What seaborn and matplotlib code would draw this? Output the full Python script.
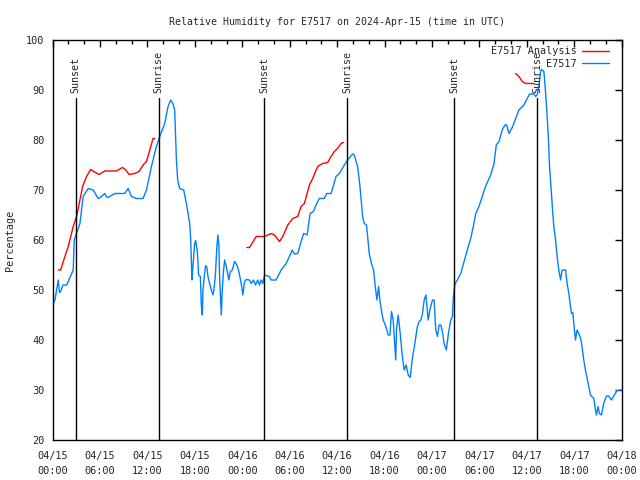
import matplotlib
matplotlib.use("Agg")
import matplotlib.pyplot as plt
import matplotlib.dates as mdates
import pandas as pd
import numpy as np
import seaborn as sns

# hours after 2024-04-15 00:00 UTC, relative humidity (%)
obs_hours = [0.0, 0.29, 0.71, 0.86, 1.01, 1.3, 1.77, 2.18, 2.6, 2.73, 2.94, 3.45, 3.86, 4.49, 5.13,
             5.76, 6.19, 6.6, 6.86, 7.23, 7.87, 9.13, 9.55, 9.97, 10.6, 11.44, 11.87, 12.5, 13.13,
             13.55, 14.18, 14.6, 14.94, 15.23, 15.44, 15.66, 15.82, 16.07, 16.58, 16.92, 17.34,
             17.46, 17.63, 17.75, 17.97, 18.09, 18.31, 18.47, 18.69, 18.81, 18.94, 19.02, 19.23,
             19.36, 19.52, 19.65, 19.95, 20.28, 20.4, 20.58, 20.78, 20.91, 21.04, 21.12, 21.25,
             21.34, 21.46, 21.63, 21.76, 21.97, 22.17, 22.3, 22.47, 22.73, 23.02, 23.31, 23.56,
             23.86, 24.07, 24.28, 24.49, 24.91, 25.13, 25.42, 25.67, 25.96, 26.17, 26.39, 26.59,
             26.81, 27.44, 27.65, 28.28, 28.91, 29.55, 29.96, 30.3, 30.59, 31.01, 31.44, 31.77,
             32.2, 32.58, 32.99, 33.41, 33.75, 34.38, 34.67, 35.23, 35.86, 36.28, 36.91, 37.32,
             37.95, 38.17, 38.59, 38.89, 39.22, 39.43, 39.72, 40.06, 40.35, 40.61, 40.82, 41.04,
             41.24, 41.41, 41.67, 41.83, 42.17, 42.46, 42.68, 42.88, 43.09, 43.31, 43.41, 43.51,
             43.72, 43.98, 44.23, 44.48, 44.73, 44.99, 45.24, 45.49, 45.74, 46.16, 46.38, 46.59,
             46.8, 47.01, 47.23, 47.43, 47.52, 47.73, 48.06, 48.27, 48.48, 48.69, 48.9, 49.12,
             49.32, 49.53, 49.82, 50.08, 50.38, 50.58, 50.71, 50.92, 51.21, 51.64, 52.06, 52.47,
             52.9, 53.23, 53.54, 53.95, 54.37, 54.8, 55.43, 55.85, 56.14, 56.48, 56.89, 57.23,
             57.45, 57.74, 58.16, 58.59, 59.0, 59.63, 60.05, 60.35, 60.9, 61.11, 61.31, 61.53,
             61.74, 61.87, 62.16, 62.29, 62.5, 62.7, 62.88, 63.08, 63.29, 63.42, 63.64, 63.84,
             64.05, 64.27, 64.47, 64.9, 65.1, 65.32, 65.53, 65.66, 65.82, 65.95, 66.16, 66.36,
             66.58, 66.87, 67.21, 67.42, 67.63, 67.84, 68.06, 68.48, 68.69, 68.81, 69.02, 69.19,
             69.44, 69.73, 70.08, 70.37, 70.71, 71.0, 71.42, 72.0]
obs_rh = [47, 48, 52, 49.5, 49.7, 51, 51, 52.5, 54, 60, 61, 63.3, 68.7, 70.3, 70,
          68.3, 68.7, 69.3, 68.5, 68.7, 69.3, 69.3, 70.3, 68.7, 68.3, 68.3, 70, 74.7, 78.7,
          80.7, 83.3, 86.7, 88, 87.2, 86, 76, 72, 70.3, 70, 67.3, 63.3,
          60.3, 52, 54.7, 59.3, 59.9, 57.7, 53, 52.7, 47, 45, 50, 53.3,
          54.9, 54.5, 52.7, 50.7, 49, 50, 52.7, 58.7, 61, 58.7, 52.7, 48,
          45, 50, 54, 56, 54.7, 53, 52, 53.7, 54, 55.7, 55, 53.7,
          51.3, 49, 51.7, 52.1, 52, 51.3, 52, 51, 52, 51, 52, 51.3,
          53, 52.7, 52, 52, 54, 55.3, 56.7, 58, 57.2, 57.3, 59.7, 61.3,
          61, 65.3, 65.7, 67.3, 68.3, 68.3, 69.3, 69.3, 72.7, 73.3, 75, 76,
          77.2, 77, 74.7, 70.7, 64.7, 63.3, 63, 57.3, 55.3, 54, 50.7, 48,
          50.7, 48, 45.3, 44, 42.7, 41, 41, 45.7, 44, 38.7, 36, 42,
          45, 41.3, 37, 34, 35, 33, 32.5, 36, 38.4, 42.7, 43.7, 44,
          45.3, 48, 49, 45.7, 44, 46, 48, 48, 42, 40.7, 43, 43,
          41.7, 39.3, 38, 41.3, 44, 44.7, 48.7, 51.3, 52, 53.3, 55.7, 58,
          60.3, 62.7, 65.3, 66.7, 68.7, 70.8, 73, 75.3, 79, 79.7, 82, 83,
          83, 81.3, 82.5, 84.3, 86, 87, 88.3, 89.2, 89.2, 88.7, 89, 90.7,
          93.7, 94.1, 93.7, 91.3, 86.7, 81.3, 74.7, 70, 65.3, 62.7, 60, 56.7,
          54, 52, 54, 54, 51.3, 49.3, 46.7, 45.3, 45.5, 43.3, 40, 42,
          41.3, 40, 36, 34, 32.3, 30.7, 29, 28.3, 26, 25, 26.7, 25.3,
          25, 27.3, 28.8, 28.8, 28, 28.8, 29.9, 30]

ana_hours = [[0.71, 1.01, 1.55, 1.97, 2.6, 3.03, 3.45, 3.79, 4.29, 4.8, 5.21, 5.85, 6.6, 8.08,
              8.84, 9.26, 9.67, 10.39, 10.93, 11.44, 11.87, 12.29, 12.7, 12.92],
             [24.57, 24.91, 25.76, 26.81, 27.65, 28.07, 28.7, 29.12, 29.75, 30.38, 31.01, 31.44,
              31.86, 32.49, 32.9, 33.54, 34.17, 34.8, 35.23, 35.64, 36.06, 36.49, 36.82],
             [58.59, 59.0, 59.42, 59.85, 60.27, 60.9]]
ana_rh = [[54, 54, 56.7, 58.7, 62.7, 64.7, 68, 70.7, 72.7, 74.1, 73.7, 73.1, 73.8, 73.8,
           74.5, 74, 73.1, 73.3, 73.7, 75, 75.7, 78, 80.3, 80.3],
          [58.5, 58.5, 60.7, 60.7, 61.3, 61, 59.7, 60.7, 63, 64.3, 64.7, 66.7,
           67.3, 71, 72.3, 74.7, 75.3, 75.5, 76.7, 77.7, 78.3, 79.3, 79.5],
          [93.3, 92.7, 91.7, 91.3, 91.3, 91.3]]

sun_hours = [2.9, 13.4, 26.8, 37.3, 50.8, 61.3]
sun_labels = ['Sunset', 'Sunrise', 'Sunset', 'Sunrise', 'Sunset', 'Sunrise']

start = pd.Timestamp('2024-04-15 00:00')
def to_time(h):
    return start + pd.to_timedelta(np.array(h), unit='h')

sns.set_style('white')
plt.rcParams['font.family'] = ['DejaVu Sans Mono']
plt.rcParams['font.size'] = 7.3

fig = plt.figure(figsize=(6.4, 4.8), dpi=100)
ax = fig.add_axes([0.0823, 0.0833, 0.889, 0.8334])

red = '#ff0000'
blue = '#0080ff'

for i, (h, v) in enumerate(zip(ana_hours, ana_rh)):
    seg = pd.DataFrame({'time': to_time(h), 'rh': v})
    sns.lineplot(data=seg, x='time', y='rh', color=red, linewidth=1, ax=ax,
                 label='E7517 Analysis' if i == 0 else None)

obs = pd.DataFrame({'time': to_time(obs_hours), 'rh': obs_rh})
sns.lineplot(data=obs, x='time', y='rh', color=blue, linewidth=1, ax=ax, label='E7517')

for h, lab in zip(sun_hours, sun_labels):
    t = to_time([h])[0]
    ax.plot([t, t], [20, 88.3], color='black', linewidth=1)
    ax.text(t, 89.3, lab, rotation=90, ha='center', va='bottom', fontsize=7.2)

ax.set_xlim(start, start + pd.Timedelta(hours=72))
ax.set_ylim(20, 100)
ax.set_yticks(range(20, 101, 10))
ax.xaxis.set_major_locator(mdates.HourLocator(byhour=[0, 6, 12, 18]))
ax.xaxis.set_minor_locator(mdates.HourLocator(byhour=range(0, 24, 2)))
ax.xaxis.set_major_formatter(mdates.DateFormatter('%m/%d\n%H:%M'))
ax.tick_params(which='both', direction='in', top=True, right=True, color='black',
               labelsize=7.4, width=1)
ax.tick_params(which='major', length=5)
ax.tick_params(axis='x', which='major', pad=8)
ax.tick_params(axis='y', which='major', pad=6)
ax.tick_params(which='minor', length=3)
for lbl in ax.get_xticklabels():
    lbl.set_linespacing(1.6)
for s in ax.spines.values():
    s.set_color('black')
    s.set_linewidth(1)

ax.set_xlabel('')
ax.set_ylabel('Percentage', fontsize=7.3, labelpad=8)
ax.set_title('Relative Humidity for E7517 on 2024-Apr-15 (time in UTC)', fontsize=7.1, pad=11)

leg = ax.legend(loc='upper right', bbox_to_anchor=(0.988, 1.0), frameon=False,
                markerfirst=False, fontsize=7.3, handlelength=2.6, borderaxespad=0.2,
                labelspacing=0.25, handletextpad=0.6)

fig.savefig('out.png', dpi=100)
